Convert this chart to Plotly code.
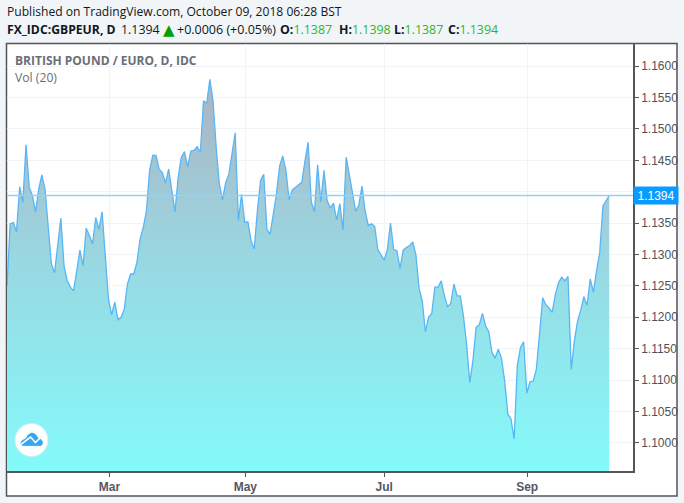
import plotly.graph_objects as go

# GBP/EUR daily close
closes = [
 1.1250,1.1349,1.1351,1.1336,1.1408,1.1383,1.1475,1.1407,1.1394,1.1368,
 1.1404,1.1427,1.1404,1.1343,1.1285,1.1271,1.1317,1.1358,1.1282,1.1258,
 1.1248,1.1242,1.1274,1.1307,1.1282,1.1342,1.1330,1.1317,1.1359,1.1340,
 1.1368,1.1301,1.1229,1.1204,1.1224,1.1196,1.1200,1.1213,1.1253,1.1269,
 1.1269,1.1288,1.1325,1.1343,1.1370,1.1434,1.1458,1.1458,1.1436,1.1431,
 1.1414,1.1436,1.1402,1.1368,1.1423,1.1455,1.1464,1.1440,1.1465,1.1466,
 1.1472,1.1463,1.1545,1.1541,1.1579,1.1545,1.1471,1.1412,1.1387,1.1415,
 1.1428,1.1460,1.1494,1.1354,1.1396,1.1351,1.1352,1.1322,1.1309,1.1370,
 1.1418,1.1428,1.1340,1.1332,1.1364,1.1396,1.1441,1.1457,1.1434,1.1387,
 1.1403,1.1407,1.1411,1.1415,1.1449,1.1479,1.1384,1.1368,1.1443,1.1384,
 1.1434,1.1386,1.1374,1.1382,1.1355,1.1381,1.1339,1.1455,1.1427,1.1398,
 1.1369,1.1379,1.1409,1.1369,1.1346,1.1349,1.1345,1.1308,1.1300,1.1291,
 1.1308,1.1350,1.1308,1.1306,1.1278,1.1307,1.1311,1.1314,1.1320,1.1300,
 1.1246,1.1226,1.1177,1.1200,1.1206,1.1248,1.1248,1.1258,1.1234,1.1217,
 1.1222,1.1253,1.1234,1.1234,1.1202,1.1157,1.1096,1.1131,1.1184,1.1188,
 1.1206,1.1186,1.1177,1.1144,1.1135,1.1149,1.1135,1.1099,1.1046,1.1038,
 1.1006,1.1123,1.1152,1.1161,1.1079,1.1097,1.1098,1.1117,1.1173,1.1231,
 1.1220,1.1215,1.1208,1.1236,1.1255,1.1264,1.1258,1.1265,1.1117,1.1162,
 1.1194,1.1211,1.1233,1.1219,1.1261,1.1240,1.1274,1.1303,1.1377,1.1386,
 1.1394,
]
bars = list(range(len(closes)))
month_positions = [32.3, 75.2, 119.0, 164.1]
month_labels = ["Mar", "May", "Jul", "Sep"]
price_ticks = [1.10, 1.105, 1.11, 1.115, 1.12, 1.125, 1.13, 1.135, 1.14, 1.145, 1.15, 1.155, 1.16]
price_labels = ["1.1000", "1.1050", "1.1100", "1.1150", "1.1200", "1.1250", "1.1300", "1.1350", "",
                "1.1450", "1.1500", "1.1550", "1.1600"]
last_price = 1.1394

W, H = 684, 503
L, R, T, B = 7, 633, 44, 471
Y_MIN, Y_MAX = 1.09551, 1.16354
X_MAX = 197.5

def px(x):
    return (x - L) / (R - L)
def py(y):
    return (B - y) / (B - T)

AXIS = "#555555"
GRID = "#f0f3f7"

fig = go.Figure()
fig.add_trace(go.Scatter(x=bars, y=[Y_MIN] * len(bars), mode="lines", line=dict(width=0),
                         showlegend=False, hoverinfo="skip"))
fig.add_trace(go.Scatter(
    x=bars, y=closes, mode="lines", fill="tonexty",
    line=dict(color="#5ab5f5", width=1.3),
    fillgradient=dict(type="vertical",
                      colorscale=[[0, "rgba(128,250,250,0.97)"], [0.55, "rgba(150,214,224,0.97)"],
                                  [1, "rgba(170,176,192,0.97)"]]),
    showlegend=False, hoverinfo="skip"))

def poly(pts, closed=True):
    body = " L ".join(f"{px(a):.4f},{py(b):.4f}" for a, b in pts)
    return "M " + body + (" Z" if closed else "")

LOGO_BLUE = "#37a6ef"
cloud = [(20.7, 444), (21.5, 441), (24, 439.5), (26, 438.5), (28, 435), (31, 433), (34, 433.3), (36.5, 435.5),
         (38, 438), (40.5, 439), (42.5, 441.5), (42.5, 444), (41, 445.7), (22.5, 445.7)]
zigzag = [(21, 444.5), (30.5, 437), (35.5, 442.5), (41.5, 436.5)]

shapes = [
    dict(type="rect", xref="paper", yref="paper", x0=px(6.5), x1=px(677), y0=py(496), y1=py(43.5),
         fillcolor="white", line=dict(color=AXIS, width=1.5), layer="below"),
    dict(type="line", xref="paper", yref="y", x0=0, x1=px(633), y0=last_price, y1=last_price,
         line=dict(color="#8ed3ff", width=1.3), layer="above"),
    # logo badge
    dict(type="circle", xref="paper", yref="paper", x0=px(15), x1=px(48), y0=py(456.5), y1=py(423.5),
         fillcolor="white", line=dict(color="#d3ecfb", width=1), layer="above"),
    dict(type="path", xref="paper", yref="paper", path=poly(cloud),
         fillcolor=LOGO_BLUE, line=dict(color=LOGO_BLUE, width=0.5), layer="above"),
    dict(type="path", xref="paper", yref="paper", path=poly(zigzag, closed=False),
         line=dict(color="white", width=1.6), layer="above"),
]

def note(text, x, y, size=12.1, color="#131722", family="Open Sans", **kw):
    return dict(text=text, xref="paper", yref="paper", x=px(x), y=py(y), xanchor="left", yanchor="middle",
                showarrow=False, font=dict(family=family, size=size, color=color), **kw)

G = "#2fb52f"
def g(t):
    return f'<span style="color:{G}">{t}</span>'

annotations = [
    note("Published on TradingView.com, October 09, 2018 06:28 BST", 4.5, 11.5),
    note("<b>FX_IDC:GBPEUR, D</b>", 4.5, 29.5, size=12.2),
    note("1.1394", 118.5, 29.5, size=12.4),
    note('<span style="color:#00a000">▲</span>', 160.5, 29.5, size=15, family="DejaVu Sans"),
    note("+0.0006 (+0.05%)", 174.5, 29.5, size=12.5),
    note("<b>O:</b>" + g("1.1387"), 277.5, 29.5, size=12.4),
    note("<b>H:</b>" + g("1.1398"), 336.5, 29.5, size=12.4),
    note("<b>L:</b>" + g("1.1387"), 391.5, 29.5, size=12.4),
    note("<b>C:</b>" + g("1.1394"), 445.5, 29.5, size=12.4),
    note("<b>BRITISH POUND / EURO, D, IDC</b>", 13, 60.5, size=12, color="#6b6e78"),
    note("Vol (20)", 13, 77.5, size=12.2, color="#6b6e78"),
    dict(text=f"{last_price:.4f}", xref="paper", yref="y", x=px(633), y=last_price, xanchor="left", yanchor="middle",
         showarrow=False, width=42, height=15, bgcolor="#0a9bff", align="center", borderpad=1,
         font=dict(family="Liberation Sans", size=12, color="white")),
]

fig.update_layout(
    width=W, height=H, margin=dict(l=L, r=W - R, t=T, b=H - B, autoexpand=False),
    paper_bgcolor="#f1f5f8", plot_bgcolor="white", showlegend=False,
    shapes=shapes, annotations=annotations, hovermode=False,
    xaxis=dict(range=[0, X_MAX], tickmode="array", tickvals=month_positions, ticktext=month_labels,
               showgrid=True, gridcolor=GRID, gridwidth=1, zeroline=False,
               showline=True, linecolor=AXIS, linewidth=1.5, ticks="outside", ticklen=4, tickcolor=AXIS,
               tickfont=dict(family="Liberation Sans", size=12, color="#55585f", weight="bold")),
    yaxis=dict(range=[Y_MIN, Y_MAX], side="right", tickmode="array", tickvals=price_ticks, ticktext=price_labels,
               showgrid=True, gridcolor=GRID, gridwidth=1, zeroline=False,
               showline=True, linecolor=AXIS, linewidth=1.5, ticks="outside", ticklen=4, tickcolor=AXIS,
               tickfont=dict(family="Liberation Sans", size=12, color="#4f525a")),
)
fig.write_html("out.html", config={"displayModeBar": False},
               post_script="document.body.style.margin='0';document.body.style.overflow='hidden';")
